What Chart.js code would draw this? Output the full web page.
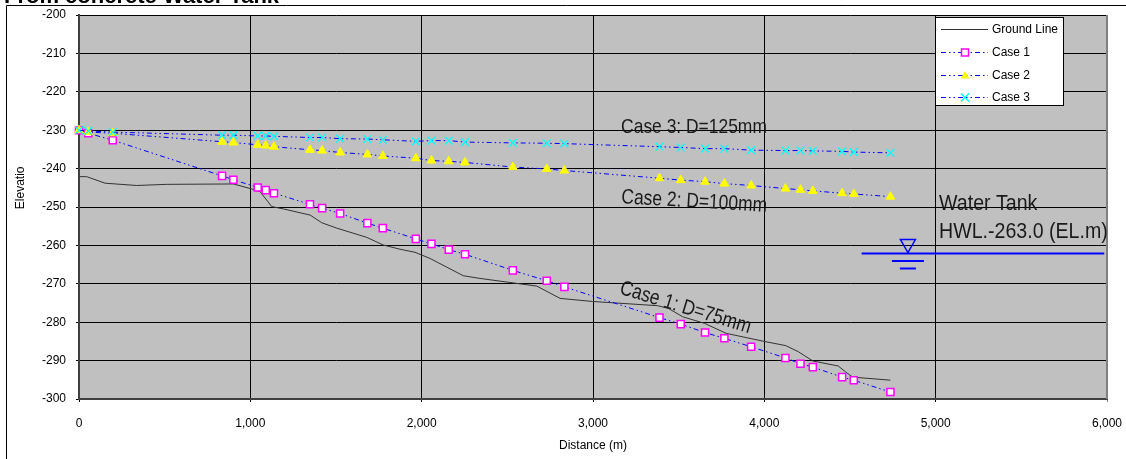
<!DOCTYPE html>
<html>
<head>
<meta charset="utf-8">
<script src="https://cdn.jsdelivr.net/npm/chart.js@4/dist/chart.umd.min.js"></script>
<style>
  body { margin: 0; background: #fff; }
</style>
</head>
<body>
<canvas id="graficoPerfil" width="1126" height="459"></canvas>
<script>
// Dados (distância em m, elevação em EL.m)
const tituloGrafico = "From concrete Water Tank";

const distancias = [0, 54, 197, 835, 901, 1043, 1090, 1138, 1348, 1419, 1524, 1683, 1773, 1966, 2057, 2158,
                    2253, 2532, 2730, 2833, 3388, 3512, 3654, 3767, 3923, 4123, 4211, 4283, 4454, 4522, 4736];
const caso1 = [-230, -230.8, -232.6, -241.9, -242.9, -244.9, -245.6, -246.4, -249.3, -250.3, -251.7, -254.2, -255.5, -258.3, -259.6, -261.1,
               -262.3, -266.5, -269.2, -270.8, -278.8, -280.5, -282.7, -284.2, -286.4, -289.3, -290.8, -291.7, -294.3, -295.1, -298.2];
const caso2 = [-230, -230.5, -230.8, -233.0, -233.2, -233.8, -234.0, -234.3, -235.1, -235.3, -235.8, -236.3, -236.7, -237.3, -237.9, -238.1,
               -238.4, -239.6, -240.1, -240.5, -242.5, -243.0, -243.4, -243.9, -244.4, -245.2, -245.5, -245.8, -246.4, -246.6, -247.3];
const caso3 = [-230, -230.2, -230.5, -231.3, -231.3, -231.5, -231.5, -231.6, -231.9, -231.9, -232.2, -232.3, -232.5, -232.9, -232.7, -232.7,
               -233.1, -233.3, -233.4, -233.5, -234.3, -234.5, -234.8, -234.8, -235.2, -235.3, -235.3, -235.4, -235.5, -235.7, -235.9];

const terrenoX = [0, 45, 152, 337, 512, 901, 1008, 1057, 1125, 1193, 1349, 1417, 1504, 1679, 1776, 1874, 1961, 2049,
                  2243, 2341, 2672, 2808, 2998, 3377, 3440, 3524, 3651, 3777, 4010, 4125, 4199, 4283, 4431, 4473, 4515, 4736];
const terrenoY = [-242.1, -242.1, -243.8, -244.4, -244.1, -244.0, -245.3, -246.0, -249.9, -250.5, -252.1, -254.1, -255.5, -257.9, -259.9, -261.0, -261.8, -263.4,
                  -267.9, -268.6, -270.6, -273.8, -274.6, -275.7, -276.4, -278.6, -280.3, -282.9, -285.1, -286.1, -287.7, -290.1, -291.4, -292.9, -294.3, -295.1];

const nomesSeries = ["Ground Line", "Case 1", "Case 2", "Case 3"];
const rotulosCasos = ["Case 3: D=125mm", "Case 2: D=100mm", "Case 1: D=75mm"];
const textoReservatorio = ["Water Tank", "HWL.-263.0 (EL.m)"];
const nivelReservatorio = -262;

const eixoXMin = 0, eixoXMax = 6000, eixoXPasso = 1000;
const eixoYMin = -300, eixoYMax = -200, eixoYPasso = 10;

const fonteTexto = '"Liberation Sans", Arial, sans-serif';
const tracoSerie = [5, 3, 1.5, 3, 1.5, 3];

function pares(xs, ys) {
    return xs.map((x, i) => ({ x: x, y: ys[i] }));
}

// Desenha o marcador de cada série (usado na legenda)
function marcador(ctx, tipo, x, y) {
    ctx.save();
    ctx.setLineDash([]);
    if (tipo === 1) {
        ctx.fillStyle = '#fff';
        ctx.strokeStyle = '#ff00ff';
        ctx.lineWidth = 1.5;
        ctx.fillRect(x - 3.5, y - 3.5, 7, 7);
        ctx.strokeRect(x - 3.5, y - 3.5, 7, 7);
    } else if (tipo === 2) {
        ctx.fillStyle = '#ffff00';
        ctx.beginPath();
        ctx.moveTo(x, y - 4.5);
        ctx.lineTo(x + 4.3, y + 3);
        ctx.lineTo(x - 4.3, y + 3);
        ctx.closePath();
        ctx.fill();
    } else if (tipo === 3) {
        ctx.strokeStyle = '#00ffff';
        ctx.lineWidth = 1.3;
        ctx.beginPath();
        ctx.moveTo(x - 4, y - 4); ctx.lineTo(x + 4, y + 4);
        ctx.moveTo(x + 4, y - 4); ctx.lineTo(x - 4, y + 4);
        ctx.stroke();
    }
    ctx.restore();
}

// texto "estreito": a fonte normal comprimida na horizontal
function textoEstreito(ctx, t, x, y, ang, escala) {
    ctx.save();
    ctx.translate(x, y);
    ctx.rotate(ang * Math.PI / 180);
    ctx.scale(escala, 1);
    ctx.fillText(t, 0, 0);
    ctx.restore();
}

// Plugin com fundo, moldura, legenda e anotações
const desenhos = {
    id: 'desenhos',
    beforeDraw(chart) {
        const { ctx, chartArea: a } = chart;
        ctx.save();
        ctx.fillStyle = '#fff';
        ctx.fillRect(0, 0, chart.width, chart.height);
        ctx.fillStyle = '#c0c0c0';
        ctx.fillRect(a.left, a.top, a.right - a.left, a.bottom - a.top);

        // moldura externa e título (cortado no topo)
        ctx.strokeStyle = '#000';
        ctx.lineWidth = 1;
        ctx.beginPath();
        ctx.moveTo(6.5, chart.height);
        ctx.lineTo(6.5, 5.5);
        ctx.lineTo(chart.width, 5.5);
        ctx.stroke();
        ctx.fillStyle = '#000';
        ctx.font = 'bold 22px ' + fonteTexto;
        ctx.textBaseline = 'alphabetic';
        ctx.fillText(tituloGrafico, 4, 3);
        ctx.restore();
    },
    afterDraw(chart) {
        const { ctx, chartArea: a } = chart;
        const sx = chart.scales.x, sy = chart.scales.y;
        ctx.save();

        // borda direita da área do gráfico
        ctx.strokeStyle = '#808080';
        ctx.lineWidth = 2;
        ctx.beginPath();
        ctx.moveTo(a.right, a.top);
        ctx.lineTo(a.right, a.bottom);
        ctx.stroke();

        // títulos dos eixos
        ctx.fillStyle = '#000';
        ctx.font = '12px ' + fonteTexto;
        ctx.textAlign = 'center';
        ctx.textBaseline = 'middle';
        ctx.fillText("Distance (m)", sx.getPixelForValue(3000), 446);
        ctx.save();
        ctx.translate(21, sy.getPixelForValue(-245));
        ctx.rotate(-Math.PI / 2);
        ctx.fillText("Elevatio", 0, 0);
        ctx.restore();

        // rótulos dos casos
        ctx.fillStyle = '#1a1a1a';
        ctx.font = '21px ' + fonteTexto;
        ctx.textAlign = 'left';
        ctx.textBaseline = 'alphabetic';
        const posRotulos = [[3164, -230.7, 0], [3164, -249.0, 3.4], [3150, -272.5, 17]];
        rotulosCasos.forEach((t, i) => {
            const p = posRotulos[i];
            textoEstreito(ctx, t, sx.getPixelForValue(p[0]), sy.getPixelForValue(p[1]), p[2], 0.83);
        });

        // reservatório
        ctx.font = '22px ' + fonteTexto;
        const xt = sx.getPixelForValue(5020);
        textoEstreito(ctx, textoReservatorio[0], xt, sy.getPixelForValue(-250.8), 0, 0.89);
        textoEstreito(ctx, textoReservatorio[1], xt, sy.getPixelForValue(-258.1), 0, 0.89);

        const yn = Math.round(sy.getPixelForValue(nivelReservatorio)) + 0.5;
        const xa = sx.getPixelForValue(4838);
        ctx.strokeStyle = '#0000ff';
        ctx.lineWidth = 2;
        ctx.beginPath();
        ctx.moveTo(sx.getPixelForValue(4568), yn);
        ctx.lineTo(sx.getPixelForValue(5984), yn);
        ctx.moveTo(xa - 16, yn + 7.5);
        ctx.lineTo(xa + 16, yn + 7.5);
        ctx.moveTo(xa - 8, yn + 15);
        ctx.lineTo(xa + 8, yn + 15);
        ctx.stroke();
        ctx.lineWidth = 1.5;
        ctx.beginPath();
        ctx.moveTo(xa - 7.5, yn - 14);
        ctx.lineTo(xa + 7.5, yn - 14);
        ctx.lineTo(xa, yn - 1);
        ctx.closePath();
        ctx.stroke();

        // legenda
        ctx.fillStyle = '#fff';
        ctx.fillRect(935.5, 17.5, 128, 88);
        ctx.strokeStyle = '#000';
        ctx.lineWidth = 1;
        ctx.strokeRect(935.5, 17.5, 128, 88);
        ctx.font = '12px ' + fonteTexto;
        ctx.textBaseline = 'middle';
        const linhas = [29.5, 52.5, 75.5, 97.5];
        nomesSeries.forEach((nome, i) => {
            const y = linhas[i];
            ctx.strokeStyle = i === 0 ? '#333' : '#0000ff';
            ctx.lineWidth = 1;
            ctx.setLineDash(i === 0 ? [] : tracoSerie);
            ctx.beginPath();
            ctx.moveTo(941, y);
            ctx.lineTo(988, y);
            ctx.stroke();
            ctx.setLineDash([]);
            marcador(ctx, i, 965, y);
            ctx.fillStyle = '#000';
            ctx.fillText(nome, 992, y);
        });
        ctx.restore();
    }
};

document.addEventListener("DOMContentLoaded", function() {
    const ctx = document.getElementById('graficoPerfil').getContext('2d');

    const estiloCaso = {
        borderColor: '#0000ff',
        borderWidth: 1,
        borderDash: tracoSerie,
        tension: 0,
        fill: false,
        clip: 10
    };

    const grafico = new Chart(ctx, {
        type: 'line',
        data: {
            datasets: [
                { label: nomesSeries[0], data: pares(terrenoX, terrenoY), borderColor: '#333', borderWidth: 1,
                  pointRadius: 0, tension: 0, fill: false, order: 4 },
                Object.assign({ label: nomesSeries[1], data: pares(distancias, caso1), order: 3,
                  pointStyle: 'rect', pointRadius: 5, pointBorderColor: '#ff00ff', pointBackgroundColor: '#fff', pointBorderWidth: 1.5 }, estiloCaso),
                Object.assign({ label: nomesSeries[2], data: pares(distancias, caso2), order: 2,
                  pointStyle: 'triangle', pointRadius: 5, pointBorderColor: '#ffff00', pointBackgroundColor: '#ffff00', pointBorderWidth: 1 }, estiloCaso),
                Object.assign({ label: nomesSeries[3], data: pares(distancias, caso3), order: 1,
                  pointStyle: 'crossRot', pointRadius: 5.5, pointBorderColor: '#00ffff', pointBorderWidth: 1.3 }, estiloCaso)
            ]
        },
        options: {
            responsive: false,
            animation: false,
            layout: { padding: { left: 0, top: 15, right: 19, bottom: 0 } },
            plugins: {
                legend: { display: false },
                tooltip: { enabled: false }
            },
            scales: {
                x: {
                    type: 'linear',
                    min: eixoXMin, max: eixoXMax,
                    afterFit: function(s) { s.height = 60; s.paddingLeft = 0; s.paddingRight = 0; },
                    ticks: {
                        stepSize: eixoXPasso,
                        color: '#000',
                        padding: 14,
                        maxRotation: 0,
                        font: { family: fonteTexto, size: 12 },
                        callback: v => v.toLocaleString('en-US')
                    },
                    grid: {
                        color: c => (c.tick && c.tick.value === eixoXMax) ? '#808080' : '#000',
                        lineWidth: 1,
                        tickLength: 3
                    },
                    border: { color: '#404040', width: 2 }
                },
                y: {
                    min: eixoYMin, max: eixoYMax,
                    afterFit: function(s) { s.width = 79; s.paddingTop = 0; s.paddingBottom = 0; },
                    ticks: {
                        stepSize: eixoYPasso,
                        color: '#000',
                        padding: 10,
                        font: { family: fonteTexto, size: 12 }
                    },
                    grid: { color: '#000', lineWidth: 1, tickLength: 3 },
                    border: { color: '#404040', width: 2 }
                }
            }
        },
        plugins: [desenhos]
    });
});
</script>
</body>
</html>
